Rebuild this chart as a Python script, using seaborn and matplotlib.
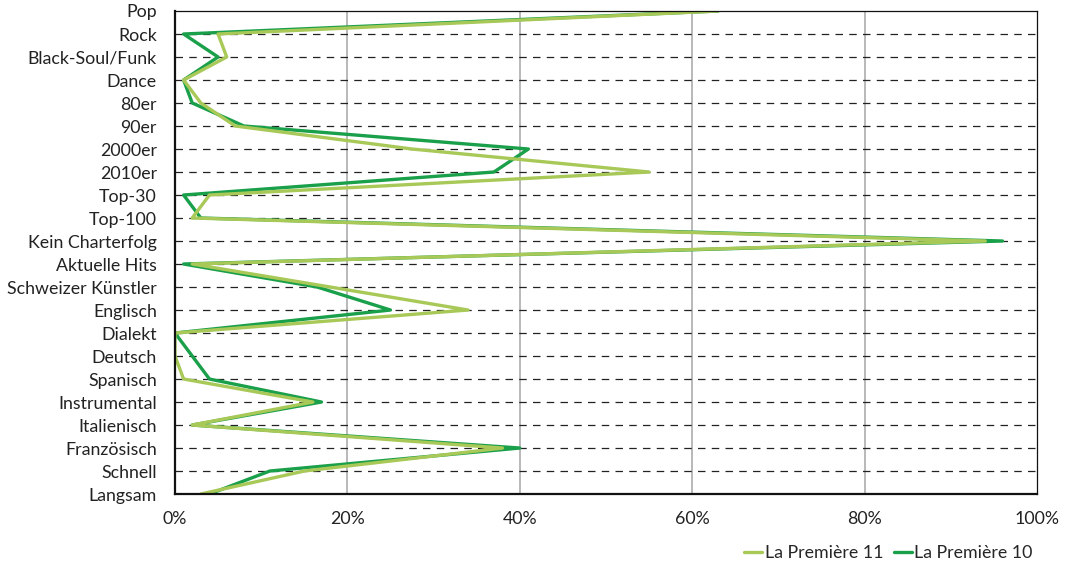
import pandas as pd
import numpy as np
import matplotlib
matplotlib.use('Agg')
import matplotlib.pyplot as plt
import seaborn as sns
from matplotlib.ticker import FuncFormatter

categories = ['Pop', 'Rock', 'Black-Soul/Funk', 'Dance', '80er', '90er', '2000er',
              '2010er', 'Top-30', 'Top-100', 'Kein Charterfolg', 'Aktuelle Hits',
              'Schweizer Künstler', 'Englisch', 'Dialekt', 'Deutsch', 'Spanisch',
              'Instrumental', 'Italienisch', 'Französisch', 'Schnell', 'Langsam']

# share in percent
premiere_11 = [63, 5, 6, 1, 3, 7, 27.5, 55, 4, 2, 94, 2, 18, 34, 0, 0, 1, 16, 2, 38, 15, 3]
premiere_10 = [63, 1, 5, 1, 2, 8, 41, 37, 1, 3, 96, 1, 16.5, 25, 0, 2, 4, 17, 2, 40, 11, 4]

series_names = ['La Première 11', 'La Première 10']
colors = {'La Première 11': '#a8c957', 'La Première 10': '#1a9f4a'}

pos = np.arange(len(categories))

sns.set_style('white')
plt.rcParams['font.family'] = ['Lato', 'DejaVu Sans']

fig = plt.figure(figsize=(10.65, 5.67), dpi=100)
ax = fig.add_axes([0.1643, 0.1287, 0.8094, 0.8519])

# dark line first, light line drawn on top
sns.lineplot(x=premiere_10, y=pos, orient='y', sort=False, color=colors['La Première 10'],
             lw=2.4, ax=ax, label='La Première 10')
sns.lineplot(x=premiere_11, y=pos, orient='y', sort=False, color=colors['La Première 11'],
             lw=2.4, ax=ax, label='La Première 11')

ax.set_xlim(0, 100)
ax.set_ylim(len(categories) - 1, 0)
ax.set_xticks([0, 20, 40, 60, 80, 100])
ax.xaxis.set_major_formatter(FuncFormatter(lambda v, p: f'{v:.0f}%'))
ax.set_yticks(pos)
ax.set_yticklabels(categories)
ax.set_xlabel('')
ax.set_ylabel('')

for v in [20, 40, 60, 80]:
    ax.axvline(v, color='#b3b3b3', lw=1.3, zorder=0)
for p in pos[1:-1]:
    ax.axhline(p, color='#222222', lw=0.9, ls=(0, (6, 5)), zorder=0)

for s in ['left', 'bottom']:
    ax.spines[s].set_linewidth(1.6)
for s in ['top', 'right']:
    ax.spines[s].set_linewidth(0.9)
for s in ax.spines.values():
    s.set_color('#111111')

ax.tick_params(axis='y', direction='in', length=5, width=0.9, labelsize=12.8,
               colors='#111111', pad=13)
ax.tick_params(axis='x', length=0, labelsize=12.8, colors='#111111', pad=12)
for lbl in ax.get_yticklabels() + ax.get_xticklabels():
    lbl.set_color('#222222')

handles, labels = ax.get_legend_handles_labels()
order = [labels.index(n) for n in series_names]
ax.legend([handles[i] for i in order], [labels[i] for i in order],
          loc='center right', bbox_to_anchor=(0.995, -0.122), ncol=2, frameon=False,
          fontsize=12.8, handlelength=1.0, handletextpad=0.15, columnspacing=0.6,
          borderaxespad=0, borderpad=0)

fig.savefig('out.png', dpi=100)
plt.close(fig)
